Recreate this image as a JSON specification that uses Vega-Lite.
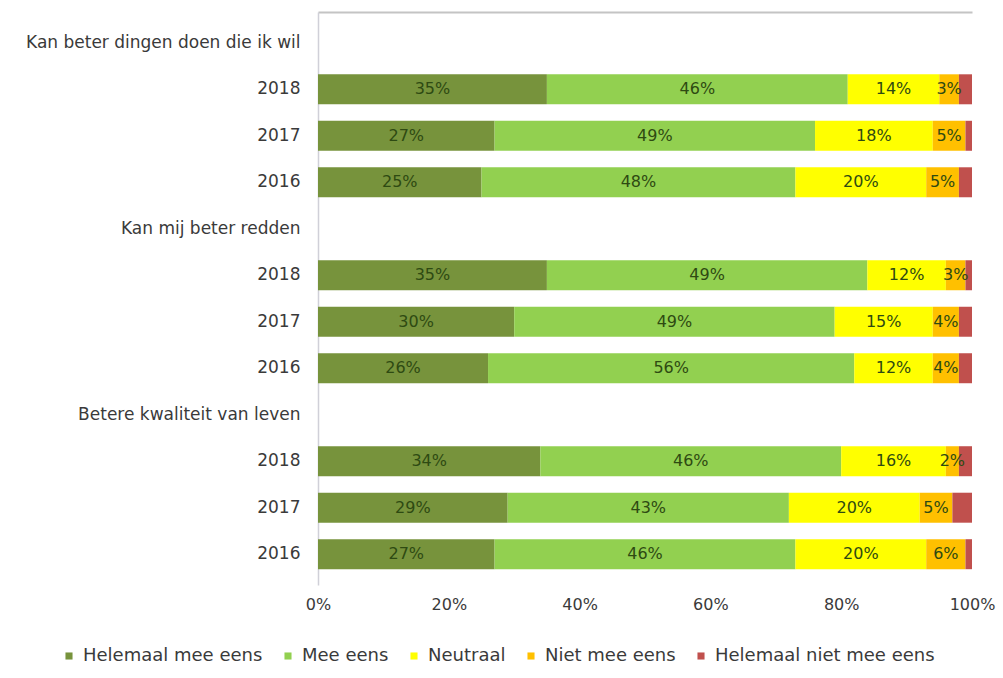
{
  "$schema": "https://vega.github.io/schema/vega-lite/v6.json",
  "width": 654,
  "height": 573,
  "autosize": {"type": "none"},
  "padding": {"left": 318, "top": 12, "right": 31, "bottom": 93},
  "background": "white",
  "config": {"view": {"stroke": null}, "font": "DejaVu Sans"},
  "data": {
    "values": [
      {"vraag": "Kan beter dingen doen die ik wil", "jaar": "2018", "antwoord": "Helemaal mee eens", "volgorde": 1, "aandeel": 0.35},
      {"vraag": "Kan beter dingen doen die ik wil", "jaar": "2018", "antwoord": "Mee eens", "volgorde": 2, "aandeel": 0.46},
      {"vraag": "Kan beter dingen doen die ik wil", "jaar": "2018", "antwoord": "Neutraal", "volgorde": 3, "aandeel": 0.14},
      {"vraag": "Kan beter dingen doen die ik wil", "jaar": "2018", "antwoord": "Niet mee eens", "volgorde": 4, "aandeel": 0.03},
      {"vraag": "Kan beter dingen doen die ik wil", "jaar": "2018", "antwoord": "Helemaal niet mee eens", "volgorde": 5, "aandeel": 0.02},
      {"vraag": "Kan beter dingen doen die ik wil", "jaar": "2017", "antwoord": "Helemaal mee eens", "volgorde": 1, "aandeel": 0.27},
      {"vraag": "Kan beter dingen doen die ik wil", "jaar": "2017", "antwoord": "Mee eens", "volgorde": 2, "aandeel": 0.49},
      {"vraag": "Kan beter dingen doen die ik wil", "jaar": "2017", "antwoord": "Neutraal", "volgorde": 3, "aandeel": 0.18},
      {"vraag": "Kan beter dingen doen die ik wil", "jaar": "2017", "antwoord": "Niet mee eens", "volgorde": 4, "aandeel": 0.05},
      {"vraag": "Kan beter dingen doen die ik wil", "jaar": "2017", "antwoord": "Helemaal niet mee eens", "volgorde": 5, "aandeel": 0.01},
      {"vraag": "Kan beter dingen doen die ik wil", "jaar": "2016", "antwoord": "Helemaal mee eens", "volgorde": 1, "aandeel": 0.25},
      {"vraag": "Kan beter dingen doen die ik wil", "jaar": "2016", "antwoord": "Mee eens", "volgorde": 2, "aandeel": 0.48},
      {"vraag": "Kan beter dingen doen die ik wil", "jaar": "2016", "antwoord": "Neutraal", "volgorde": 3, "aandeel": 0.20},
      {"vraag": "Kan beter dingen doen die ik wil", "jaar": "2016", "antwoord": "Niet mee eens", "volgorde": 4, "aandeel": 0.05},
      {"vraag": "Kan beter dingen doen die ik wil", "jaar": "2016", "antwoord": "Helemaal niet mee eens", "volgorde": 5, "aandeel": 0.02},
      {"vraag": "Kan mij beter redden", "jaar": "2018", "antwoord": "Helemaal mee eens", "volgorde": 1, "aandeel": 0.35},
      {"vraag": "Kan mij beter redden", "jaar": "2018", "antwoord": "Mee eens", "volgorde": 2, "aandeel": 0.49},
      {"vraag": "Kan mij beter redden", "jaar": "2018", "antwoord": "Neutraal", "volgorde": 3, "aandeel": 0.12},
      {"vraag": "Kan mij beter redden", "jaar": "2018", "antwoord": "Niet mee eens", "volgorde": 4, "aandeel": 0.03},
      {"vraag": "Kan mij beter redden", "jaar": "2018", "antwoord": "Helemaal niet mee eens", "volgorde": 5, "aandeel": 0.01},
      {"vraag": "Kan mij beter redden", "jaar": "2017", "antwoord": "Helemaal mee eens", "volgorde": 1, "aandeel": 0.30},
      {"vraag": "Kan mij beter redden", "jaar": "2017", "antwoord": "Mee eens", "volgorde": 2, "aandeel": 0.49},
      {"vraag": "Kan mij beter redden", "jaar": "2017", "antwoord": "Neutraal", "volgorde": 3, "aandeel": 0.15},
      {"vraag": "Kan mij beter redden", "jaar": "2017", "antwoord": "Niet mee eens", "volgorde": 4, "aandeel": 0.04},
      {"vraag": "Kan mij beter redden", "jaar": "2017", "antwoord": "Helemaal niet mee eens", "volgorde": 5, "aandeel": 0.02},
      {"vraag": "Kan mij beter redden", "jaar": "2016", "antwoord": "Helemaal mee eens", "volgorde": 1, "aandeel": 0.26},
      {"vraag": "Kan mij beter redden", "jaar": "2016", "antwoord": "Mee eens", "volgorde": 2, "aandeel": 0.56},
      {"vraag": "Kan mij beter redden", "jaar": "2016", "antwoord": "Neutraal", "volgorde": 3, "aandeel": 0.12},
      {"vraag": "Kan mij beter redden", "jaar": "2016", "antwoord": "Niet mee eens", "volgorde": 4, "aandeel": 0.04},
      {"vraag": "Kan mij beter redden", "jaar": "2016", "antwoord": "Helemaal niet mee eens", "volgorde": 5, "aandeel": 0.02},
      {"vraag": "Betere kwaliteit van leven", "jaar": "2018", "antwoord": "Helemaal mee eens", "volgorde": 1, "aandeel": 0.34},
      {"vraag": "Betere kwaliteit van leven", "jaar": "2018", "antwoord": "Mee eens", "volgorde": 2, "aandeel": 0.46},
      {"vraag": "Betere kwaliteit van leven", "jaar": "2018", "antwoord": "Neutraal", "volgorde": 3, "aandeel": 0.16},
      {"vraag": "Betere kwaliteit van leven", "jaar": "2018", "antwoord": "Niet mee eens", "volgorde": 4, "aandeel": 0.02},
      {"vraag": "Betere kwaliteit van leven", "jaar": "2018", "antwoord": "Helemaal niet mee eens", "volgorde": 5, "aandeel": 0.02},
      {"vraag": "Betere kwaliteit van leven", "jaar": "2017", "antwoord": "Helemaal mee eens", "volgorde": 1, "aandeel": 0.29},
      {"vraag": "Betere kwaliteit van leven", "jaar": "2017", "antwoord": "Mee eens", "volgorde": 2, "aandeel": 0.43},
      {"vraag": "Betere kwaliteit van leven", "jaar": "2017", "antwoord": "Neutraal", "volgorde": 3, "aandeel": 0.20},
      {"vraag": "Betere kwaliteit van leven", "jaar": "2017", "antwoord": "Niet mee eens", "volgorde": 4, "aandeel": 0.05},
      {"vraag": "Betere kwaliteit van leven", "jaar": "2017", "antwoord": "Helemaal niet mee eens", "volgorde": 5, "aandeel": 0.03},
      {"vraag": "Betere kwaliteit van leven", "jaar": "2016", "antwoord": "Helemaal mee eens", "volgorde": 1, "aandeel": 0.27},
      {"vraag": "Betere kwaliteit van leven", "jaar": "2016", "antwoord": "Mee eens", "volgorde": 2, "aandeel": 0.46},
      {"vraag": "Betere kwaliteit van leven", "jaar": "2016", "antwoord": "Neutraal", "volgorde": 3, "aandeel": 0.20},
      {"vraag": "Betere kwaliteit van leven", "jaar": "2016", "antwoord": "Niet mee eens", "volgorde": 4, "aandeel": 0.06},
      {"vraag": "Betere kwaliteit van leven", "jaar": "2016", "antwoord": "Helemaal niet mee eens", "volgorde": 5, "aandeel": 0.01}
    ]
  },
  "transform": [
    {"calculate": "datum.vraag + '|' + datum.jaar", "as": "rij"},
    {"stack": "aandeel", "groupby": ["rij"], "sort": [{"field": "volgorde", "order": "ascending"}], "as": ["p0", "p1"]},
    {"calculate": "(datum.p0 + datum.p1) / 2", "as": "pm"}
  ],
  "resolve": {"axis": {"x": "independent"}},
  "layer": [
    {
      "mark": {"type": "bar"},
      "encoding": {
        "y": {
          "field": "rij",
          "type": "nominal",
          "scale": {
            "domain": [
              "Kan beter dingen doen die ik wil",
              "Kan beter dingen doen die ik wil|2018",
              "Kan beter dingen doen die ik wil|2017",
              "Kan beter dingen doen die ik wil|2016",
              "Kan mij beter redden",
              "Kan mij beter redden|2018",
              "Kan mij beter redden|2017",
              "Kan mij beter redden|2016",
              "Betere kwaliteit van leven",
              "Betere kwaliteit van leven|2018",
              "Betere kwaliteit van leven|2017",
              "Betere kwaliteit van leven|2016"
            ],
            "paddingInner": 0.355,
            "paddingOuter": 0.34
          },
          "axis": {
            "title": null,
            "ticks": false,
            "domain": true,
            "domainColor": "#d0d0d8",
            "domainWidth": 1.5,
            "labelExpr": "indexof(datum.value, '|') >= 0 ? split(datum.value, '|')[1] : datum.value",
            "labelFontSize": 17,
            "labelColor": "#3a3a3a",
            "labelPadding": 18,
            "labelLimit": 400
          }
        },
        "x": {
          "field": "p0",
          "type": "quantitative",
          "scale": {"domain": [0, 1], "nice": false},
          "axis": {
            "orient": "bottom",
            "title": null,
            "format": "%",
            "values": [0, 0.2, 0.4, 0.6, 0.8, 1],
            "domain": false,
            "ticks": false,
            "tickSize": 0,
            "grid": false,
            "labelFlush": false,
            "labelFontSize": 16,
            "labelColor": "#3a3a3a",
            "labelPadding": 11
          }
        },
        "x2": {"field": "p1"},
        "color": {
          "field": "antwoord",
          "type": "nominal",
          "scale": {
            "domain": ["Helemaal mee eens", "Mee eens", "Neutraal", "Niet mee eens", "Helemaal niet mee eens"],
            "range": ["#77933C", "#92D050", "#FFFF00", "#FFC000", "#C0504D"]
          },
          "legend": {
            "orient": "none",
            "legendX": -258,
            "legendY": 635,
            "direction": "horizontal",
            "columns": 5,
            "title": null,
            "symbolType": "square",
            "symbolSize": 50,
            "symbolStrokeWidth": 0,
            "labelFontSize": 18,
            "labelColor": "#3a3a3a",
            "labelOffset": 5,
            "columnPadding": 16,
            "labelLimit": 400
          }
        }
      }
    },
    {
      "transform": [{"filter": "datum.antwoord !== 'Helemaal niet mee eens'"}],
      "mark": {"type": "text", "fontSize": 16, "color": "#2e4a12"},
      "encoding": {
        "y": {"field": "rij", "type": "nominal"},
        "x": {
          "field": "pm",
          "type": "quantitative",
          "axis": {
            "orient": "top",
            "title": null,
            "labels": false,
            "ticks": false,
            "grid": false,
            "domain": true,
            "domainColor": "#c4c4c4",
            "domainWidth": 2
          }
        },
        "text": {"field": "aandeel", "type": "quantitative", "format": ".0%"}
      }
    }
  ]
}
